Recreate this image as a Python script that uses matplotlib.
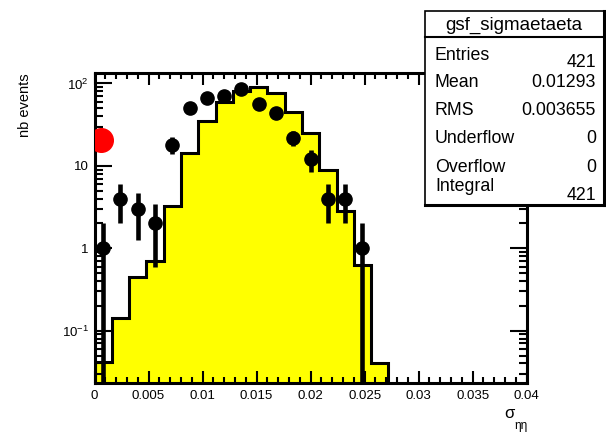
import numpy as np
import matplotlib.pyplot as plt
from matplotlib.patches import Rectangle
from matplotlib.lines import Line2D
from matplotlib.ticker import FixedLocator, MultipleLocator, LogLocator, NullFormatter

plt.rcParams['font.family'] = ['Liberation Sans', 'DejaVu Sans']
plt.rcParams['mathtext.fontset'] = 'custom'
plt.rcParams['mathtext.rm'] = 'Liberation Sans'

# binning of the histogram
x_min, x_max = 0.0, 0.04
bin_width = 0.0016

# simulation (yellow histogram), non empty bins from x = 0
mc_counts = [0.042, 0.143, 0.45, 0.70, 3.26, 14.2, 35.0, 60.0, 82.0, 91.0,
             76.0, 45.0, 25.3, 8.9, 2.8, 0.63, 0.041]

# data points, non empty bins from x = 0
data_counts = [1, 4, 3, 2, 18, 50, 67, 70, 85, 57, 44, 22, 12, 4, 4, 1]

# red marker
red_x = [0.0006]
red_y = [20.8]

x_ticks = [0, 0.005, 0.01, 0.015, 0.02, 0.025, 0.03, 0.035, 0.04]
x_ticklabels = ['0', '0.005', '0.01', '0.015', '0.02', '0.025', '0.03', '0.035', '0.04']
y_ticks = [0.1, 1, 10, 100]
y_ticklabels = ['$10^{-1}$', '1', '10', '$10^{2}$']

stat_names = ['Entries', 'Mean', 'RMS', 'Underflow', 'Overflow', 'Integral']
stat_values = ['421', '0.01293', '0.003655', '0', '0', '421']

W, H = 606, 432
fig = plt.figure(figsize=(W / 100, H / 100), dpi=100)
ax = fig.add_axes([94.5 / W, 1 - 383.3 / H, 432.2 / W, 310.6 / H])

mc_edges = x_min + bin_width * np.arange(len(mc_counts) + 1)
ax.stairs(mc_counts, mc_edges, baseline=1e-4, fill=True, facecolor='#ffff00',
          edgecolor='none', zorder=1)
ax.stairs(mc_counts, mc_edges, baseline=1e-4, color='black', lw=2.2, zorder=2)

data = np.array(data_counts, dtype=float)
centers = x_min + bin_width * (np.arange(len(data)) + 0.5)
err = np.sqrt(data)
lo = data - np.maximum(data - err, 1e-4)
ax.errorbar(centers, data, yerr=[lo, err], fmt='o', color='black', ms=9.5,
            elinewidth=3.3, capsize=0, zorder=3)

ax.plot(red_x, red_y, 'o', color='red', ms=17, zorder=4)

ax.set_yscale('log')
ax.set_xlim(x_min, x_max)
ax.set_ylim(0.0230, 135.0)

ax.xaxis.set_major_locator(FixedLocator(x_ticks))
ax.set_xticklabels(x_ticklabels)
ax.xaxis.set_minor_locator(MultipleLocator(0.001))
ax.yaxis.set_major_locator(FixedLocator(y_ticks))
ax.set_yticklabels(y_ticklabels)
ax.yaxis.set_minor_locator(LogLocator(base=10, subs=np.arange(2, 10)))
ax.yaxis.set_minor_formatter(NullFormatter())

ax.tick_params(which='both', direction='in', top=True, right=True, width=1.5)
ax.tick_params(axis='x', which='major', length=8.6, labelsize=9.5, pad=5)
ax.tick_params(axis='x', which='minor', length=4.3)
ax.tick_params(axis='y', which='major', length=12, labelsize=9.5, pad=4)
ax.tick_params(axis='y', which='minor', length=6)
for s in ax.spines.values():
    s.set_linewidth(2.2)

fig.text(25 / W, 1 - 73 / H, 'nb events', rotation=90, ha='center', va='top', fontsize=10.5)
fig.text(509 / W, 1 - 414 / H, 'σ', ha='center', va='center', fontsize=12)
fig.text(521 / W, 1 - 426 / H, 'ηη', ha='center', va='center', fontsize=8.5)

# stats box
bx0, by0, bx1, by1 = 425, 10.7, 604.3, 205
fig.patches.append(Rectangle((bx0 / W, 1 - by1 / H), (bx1 - bx0) / W, (by1 - by0) / H,
                             transform=fig.transFigure, facecolor='white',
                             edgecolor='black', lw=1.2, zorder=5))
fig.lines.append(Line2D([bx0 / W, bx1 / W], [1 - 36.7 / H] * 2, transform=fig.transFigure,
                        color='black', lw=1.5, zorder=6))
fig.lines.append(Line2D([bx1 / W] * 2, [1 - by0 / H, 1 - by1 / H], transform=fig.transFigure,
                        color='black', lw=2.2, zorder=6))
fig.lines.append(Line2D([bx0 / W, bx1 / W], [1 - by1 / H] * 2, transform=fig.transFigure,
                        color='black', lw=2.2, zorder=6))
fig.text(513.7 / W, 1 - 30 / H, 'gsf_sigmaetaeta', ha='center', va='baseline',
         fontsize=13.5, zorder=7)
name_base = [60, 87.3, 115, 143, 171.7, 191.5]
value_base = [66.7, 87.3, 115, 143.3, 171.7, 200]
for name, val, yb, yv in zip(stat_names, stat_values, name_base, value_base):
    fig.text(435 / W, 1 - yb / H, name, ha='left', va='baseline', fontsize=12.8, zorder=7)
    fig.text(596 / W, 1 - yv / H, val, ha='right', va='baseline', fontsize=12.8, zorder=7)

fig.savefig('out.png', dpi=100)
